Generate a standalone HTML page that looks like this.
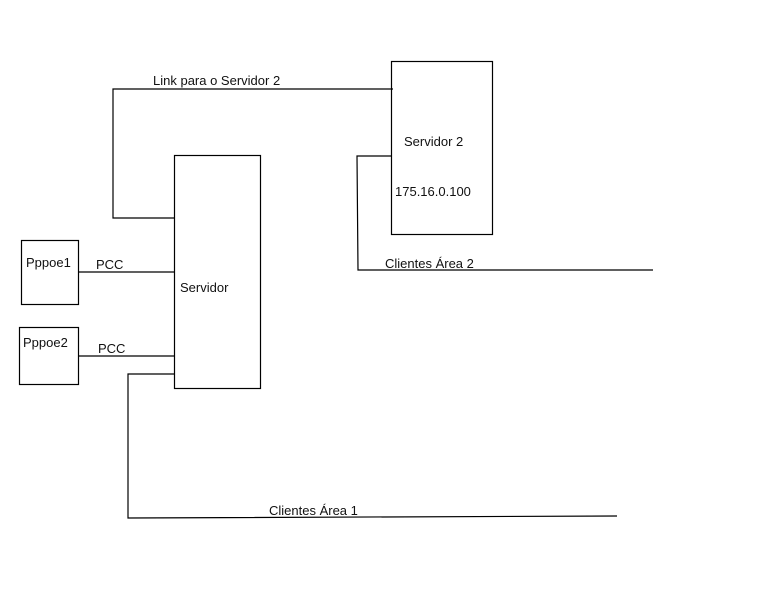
<!DOCTYPE html>
<html><head><meta charset="utf-8"><style>
html,body{margin:0;padding:0;background:#fff;}
svg{display:block;}
text{font-family:"Liberation Sans",sans-serif;font-size:13px;fill:#111;}
</style></head><body>
<svg width="768" height="614" viewBox="0 0 768 614" xmlns="http://www.w3.org/2000/svg">
<g fill="none" stroke="#000" stroke-width="1.2">
<rect x="174.5" y="155.5" width="86" height="233"/>
<rect x="391.5" y="61.5" width="101" height="173"/>
<rect x="21.5" y="240.5" width="57" height="64"/>
<rect x="19.5" y="327.5" width="59" height="57"/>
<polyline points="174,218 113,218 113,89 393,89"/>
<line x1="78" y1="272" x2="174" y2="272"/>
<line x1="78" y1="356" x2="174" y2="356"/>
<polyline points="174,374 128,374 128,518 617,516"/>
<polyline points="391,156 357,156 358,270 653,270"/>
</g>
<text x="153" y="85">Link para o Servidor 2</text>
<text x="404" y="146">Servidor 2</text>
<text x="395" y="196">175.16.0.100</text>
<text x="385" y="268">Clientes Área 2</text>
<text x="180" y="292">Servidor</text>
<text x="26" y="267">Pppoe1</text>
<text x="23" y="347">Pppoe2</text>
<text x="96" y="269">PCC</text>
<text x="98" y="353">PCC</text>
<text x="269" y="515">Clientes Área 1</text>
</svg>
</body></html>
